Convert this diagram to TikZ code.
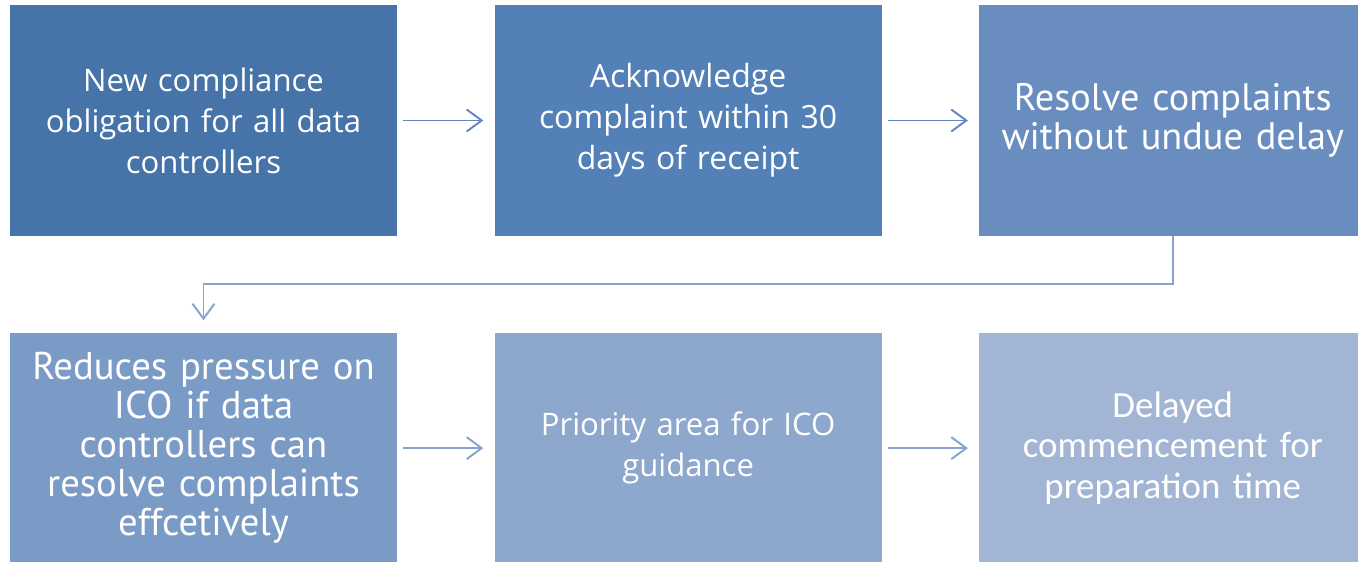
\documentclass[tikz,border=0pt]{standalone}
\usepackage{fontspec}
\setmainfont{Open Sans}
\newfontfamily\stepfont{PT Sans}
\newfontfamily\calfont{Carlito}
\usetikzlibrary{positioning,arrows.meta}
\definecolor{boxa}{RGB}{70,116,169}
\definecolor{boxb}{RGB}{83,128,183}
\definecolor{boxc}{RGB}{106,141,192}
\definecolor{boxd}{RGB}{123,155,199}
\definecolor{boxe}{RGB}{142,167,204}
\definecolor{boxf}{RGB}{163,181,213}
\definecolor{arrowa}{RGB}{95,135,190}
\definecolor{arrowb}{RGB}{135,163,206}

\tikzset{
  stage/.style={fill=#1, text=white, minimum width=7.74cm, minimum height=4.62cm,
    text width=7.5cm, align=center, inner sep=0pt, font=\fontsize{17.7}{23.3}\selectfont},
  flow/.style={draw=#1, line width=1.1pt, -{Straight Barb[length=0.3cm,width=0.44cm,line width=1.1pt]}}
}

\begin{document}
\begin{tikzpicture}[x=0.02cm,y=-0.02cm,node distance=1.92cm and 1.94cm]
	\useasboundingbox (0,0) rectangle (1358,561);
	\clip (0,0) rectangle (1358,561);
		% top row
		\node[stage=boxa] (obl) at (203.5,120.5) {New compliance\\obligation for all data\\controllers};
		\node[stage=boxb, right=of obl, font=\fontsize{18.2}{23.3}\selectfont] (ack) {Acknowledge\\complaint within 30\\days of receipt};
		\node[stage=boxc, right=of ack, font=\stepfont\fontsize{21.8}{22.2}\selectfont] (res) {Resolve complaints\\without undue delay};
		% bottom row
		\node[stage=boxd, below=of obl, font=\stepfont\fontsize{22}{22.2}\selectfont] (red) {Reduces pressure on\\ICO if data\\controllers can\\resolve complaints\\effcetively};
		\node[stage=boxe, right=of red] (pri) {Priority area for ICO\\guidance};
		\node[stage=boxf, right=of pri, font=\calfont\fontsize{21}{23.3}\selectfont] (del) {Delayed\\commencement for\\preparation time};
		% connectors
		\draw[flow=arrowa, shorten <=0.12cm, shorten >=0.22cm] (obl) -- (ack);
		\draw[flow=arrowa, shorten <=0.12cm, shorten >=0.22cm] (ack) -- (res);
		\draw[flow=arrowb, shorten >=0.24cm] (res.south) -- ++(0,48) -| (red.north);
		\draw[flow=arrowb, shorten <=0.12cm, shorten >=0.22cm] (red) -- (pri);
		\draw[flow=arrowb, shorten <=0.12cm, shorten >=0.22cm] (pri) -- (del);
\end{tikzpicture}
\end{document}
